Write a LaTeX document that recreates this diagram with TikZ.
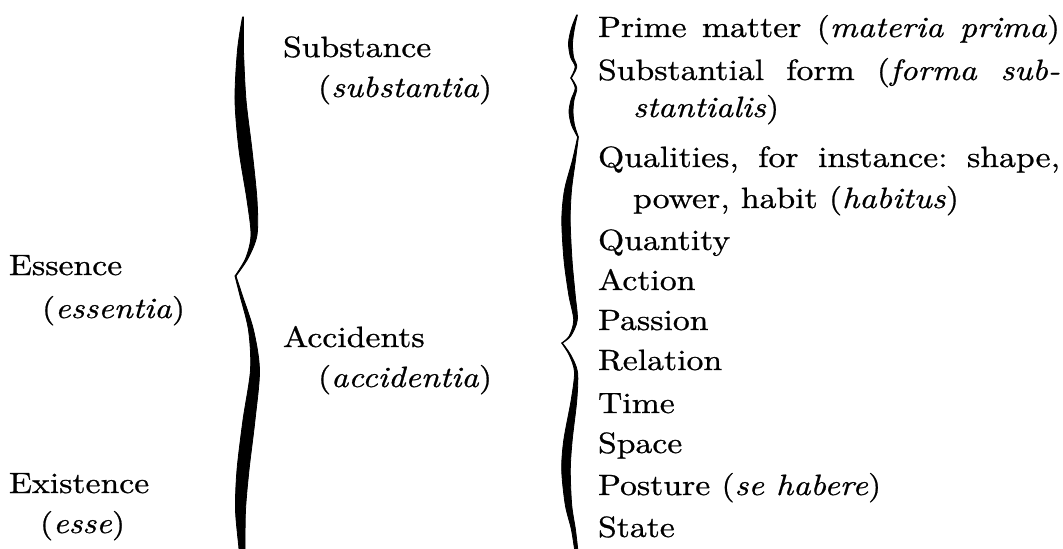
\documentclass[tikz,border=0pt]{standalone}
\usepackage{fontspec}
\setmainfont{lmroman10}[Extension=.otf, UprightFont=*-regular, ItalicFont=*-italic, BoldFont=*-bold, BoldItalicFont=*-bolditalic, FakeStretch=1.15, FakeBold=0.8]
\newlength\colw
\setlength\colw{346.5pt}
\frenchspacing
\begin{document}
\begin{tikzpicture}[x=0.75pt,y=-0.75pt,
  txt/.style={anchor=base west, inner sep=0pt, outer sep=0pt, font=\fontsize{22}{26}\selectfont\frenchspacing},
  bracearm/.style={fill=black, draw=black, line width=0.6pt, line join=round}]
\fill[white] (0,0) rectangle (1063,549);
\useasboundingbox (0,0) rectangle (1063,549);

% left column
\node[txt] (essence) at (9,275) {Essence};
\node[txt] (essentia) at (42,318) {(\textit{essentia})};
\node[txt] (existence) at (9,493) {Existence};
\node[txt] (esse) at (40,533) {(\textit{esse})};

% middle column
\node[txt] (substance) at (283,57) {Substance};
\node[txt] (substantia) at (318,97) {(\textit{substantia})};
\node[txt] (accidents) at (283,347) {Accidents};
\node[txt] (accidentia) at (318,387) {(\textit{accidentia})};

% right column
\node[txt] (prime) at (598,37) {\makebox[\colw][s]{Prime matter (\textit{materia prima})}};
\node[txt] (substform) at (598,80) {\makebox[\colw][s]{Substantial form (\textit{forma sub-}}};
\node[txt] (stantialis) at (633,117) {\textit{stantialis})};
\node[txt] (qualities) at (598,167) {\makebox[\colw][s]{Qualities, for instance: shape,}};
\node[txt] (power) at (633,208) {power, habit (\textit{habitus})};
\node[txt] (quantity) at (598,250) {Quantity};
\node[txt] (action) at (598,290) {Action};
\node[txt] (passion) at (598,330) {Passion};
\node[txt] (relation) at (598,370) {Relation};
\node[txt] (time) at (598,413) {Time};
\node[txt] (space) at (598,453) {Space};
\node[txt] (posture) at (598,495) {Posture (\textit{se habere})};
\node[txt] (state) at (598,537) {State};

% big left brace (Essence / Existence)
\path[bracearm] plot[smooth] coordinates {(242.5,17) (237.5,50) (235,100) (239,150) (247,200) (251,235) (245.8,258) (235,276)}
  -- plot[smooth] coordinates {(236,276) (248.2,258) (257,235) (257,200) (252,150) (246,100) (243.5,50) (243.5,17)} -- cycle;
\path[bracearm] plot[smooth] coordinates {(235,276) (239.8,295) (248.5,330) (250.5,370) (243,420) (237,470) (235.5,510) (239,549) (239,556)}
  -- plot[smooth] coordinates {(245,556) (245,549) (245.5,510) (249,470) (255,420) (259.5,370) (253.5,330) (242.2,295) (236,276)} -- cycle;

% small brace (Substance)
\path[bracearm] plot[smooth] coordinates {(576.6,15) (571.5,28) (568.5,43) (570.5,57) (575.2,67) (570.6,78)}
  -- plot[smooth] coordinates {(571.4,78) (576.8,67) (573.5,57) (572.5,43) (574.5,28) (577.4,15)} -- cycle;
\path[bracearm] plot[smooth] coordinates {(570.6,78) (575.2,88) (571,100) (569,112) (571.5,125) (577.6,137)}
  -- plot[smooth] coordinates {(578.4,137) (574.5,125) (573,112) (574,100) (576.8,88) (571.4,78)} -- cycle;

% large brace (Accidents)
\path[bracearm] plot[smooth] coordinates {(577.6,137) (572.5,160) (564.5,190) (561.8,220) (564,260) (568.8,295) (573.7,320) (569.2,336) (561.6,343)}
  -- plot[smooth] coordinates {(562.4,343) (570.8,336) (577.3,320) (575.2,295) (572,260) (570.2,220) (571.5,190) (575.5,160) (578.4,137)} -- cycle;
\path[bracearm] plot[smooth] coordinates {(561.6,343) (569.2,355) (574.5,372) (571.2,400) (563.8,440) (561.7,470) (565.3,505) (571.5,530) (575.5,556)}
  -- plot[smooth] coordinates {(578.5,556) (575.5,530) (571.7,505) (570.3,470) (572.2,440) (576.8,400) (577.5,372) (570.8,355) (562.4,343)} -- cycle;
\end{tikzpicture}
\end{document}
